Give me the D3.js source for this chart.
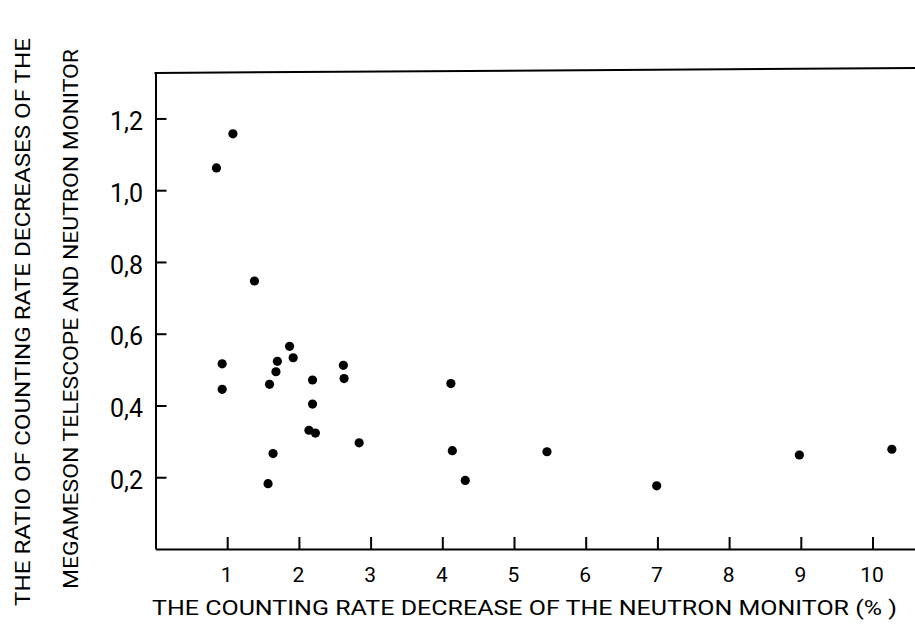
<!DOCTYPE html>
<html>
<head>
<meta charset="utf-8">
<script src="https://cdn.jsdelivr.net/npm/d3@7"></script>
<style>
  html, body { margin: 0; padding: 0; background: #fff; }
  svg { display: block; }
  text { font-family: Roboto, "DejaVu Sans", sans-serif; fill: #000; }
</style>
</head>
<body>
<svg id="chart" width="915" height="626"></svg>
<script>
// Data
const xValues = [0.85, 1.08, 1.38, 0.93, 0.93, 1.87, 1.92, 1.70, 1.68, 1.59, 2.19, 2.19, 2.14, 2.23, 2.62, 2.63, 2.84, 1.64, 1.57, 4.12, 4.14, 4.32, 5.46, 6.99, 8.98, 10.27];
const yValues = [1.062, 1.157, 0.747, 0.516, 0.445, 0.565, 0.533, 0.523, 0.494, 0.459, 0.471, 0.404, 0.331, 0.323, 0.512, 0.475, 0.296, 0.266, 0.182, 0.461, 0.274, 0.191, 0.271, 0.176, 0.262, 0.278];
const xTicks = [1, 2, 3, 4, 5, 6, 7, 8, 9, 10];
const yTicks = [0.2, 0.4, 0.6, 0.8, 1.0, 1.2];
const xTitle = "THE COUNTING RATE DECREASE OF THE NEUTRON MONITOR (% )";
const yTitleLines = ["THE RATIO OF COUNTING RATE DECREASES OF THE", "MEGAMESON TELESCOPE AND NEUTRON MONITOR"];

const points = xValues.map((x, i) => ({ x, y: yValues[i] }));

const svg = d3.select("#chart");
const mLeft = 155.5, mRight = 915, mBottom = 549, mTop = 72;

const x = d3.scaleLinear().domain([0, (mRight - mLeft) / 71.7]).range([mLeft, mRight]);
const y = d3.scaleLinear().domain([0, (mBottom - mTop) / 358.8]).range([mBottom, mTop]);

const fmt = d => d.toFixed(1).replace(".", ",");

// X axis (ticks pointing up)
const gx = svg.append("g").attr("transform", `translate(0,${mBottom})`)
  .call(d3.axisBottom(x).tickValues(xTicks).tickSizeInner(-12).tickSizeOuter(0).tickFormat(d3.format("d")));
gx.select(".domain").attr("stroke", "#000").attr("stroke-width", 2);
gx.selectAll(".tick line").attr("stroke", "#000").attr("stroke-width", 2);
gx.selectAll(".tick text").attr("x", -1).attr("y", 33).attr("dy", 0).attr("font-size", 21)
  .style("font-family", "Roboto, sans-serif");

// Y axis (ticks pointing right)
const gy = svg.append("g").attr("transform", `translate(${mLeft},0)`)
  .call(d3.axisLeft(y).tickValues(yTicks).tickSizeInner(-11).tickSizeOuter(0).tickFormat(fmt));
gy.select(".domain").attr("stroke", "#000").attr("stroke-width", 2);
gy.selectAll(".tick line").attr("stroke", "#000").attr("stroke-width", 2);
gy.selectAll(".tick text").attr("x", -12.5).attr("font-size", 25).attr("dy", "0.45em")
  .attr("text-anchor", "end").style("font-family", "Roboto, sans-serif");

// Top frame line
svg.append("line")
  .attr("x1", mLeft - 1).attr("x2", mRight)
  .attr("y1", y(y.domain()[1]) + 1).attr("y2", y(y.domain()[1]) - 4)
  .attr("stroke", "#000").attr("stroke-width", 2);

// Points
svg.append("g").selectAll("circle").data(points).join("circle")
  .attr("cx", d => x(d.x)).attr("cy", d => y(d.y)).attr("r", 4.6).attr("fill", "#000");

// X title
svg.append("text")
  .attr("x", 152).attr("y", 615)
  .attr("font-size", 21)
  .attr("textLength", 745).attr("lengthAdjust", "spacingAndGlyphs")
  .text(xTitle);

// Y title lines
const yPos = [{ cx: 30, y0: 606, len: 568 }, { cx: 78, y0: 589, len: 540 }];
yTitleLines.forEach((t, i) => {
  const p = yPos[i];
  svg.append("text")
    .attr("transform", `translate(${p.cx},${p.y0}) rotate(-90)`)
    .attr("font-size", 21)
    .attr("textLength", p.len).attr("lengthAdjust", "spacingAndGlyphs")
    .text(t);
});
</script>
</body>
</html>
